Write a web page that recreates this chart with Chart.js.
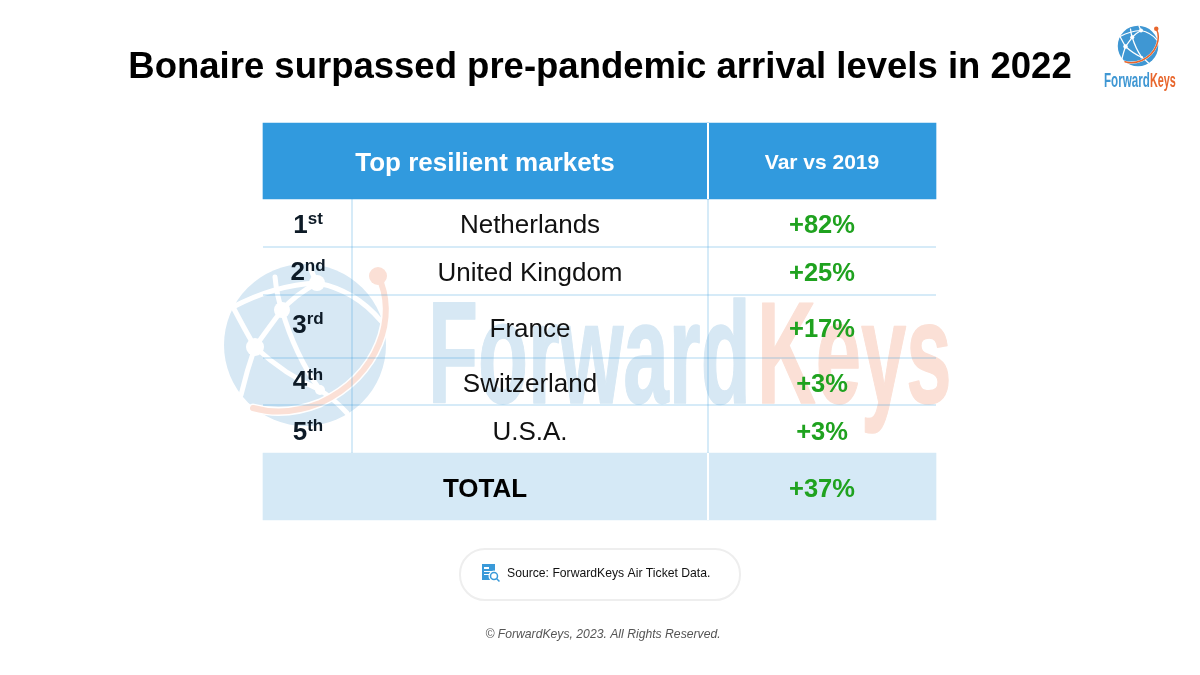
<!DOCTYPE html>
<html>
<head>
<meta charset="utf-8">
<title>Bonaire arrivals</title>
<script src="https://cdn.jsdelivr.net/npm/chart.js@4/dist/chart.umd.min.js"></script>
<style>
html, body { margin: 0; padding: 0; background: #fff; }
canvas { display: block; }
</style>
</head>
<body>
<canvas id="chart" width="1200" height="675"></canvas>
<script>
var titleText = "Bonaire surpassed pre-pandemic arrival levels in 2022";
var headerLeft = "Top resilient markets";
var headerRight = "Var vs 2019";
var rankDigits = ["1", "2", "3", "4", "5"];
var rankSuffixes = ["st", "nd", "rd", "th", "th"];
var markets = ["Netherlands", "United Kingdom", "France", "Switzerland", "U.S.A."];
var varVs2019 = [82, 25, 17, 3, 3];
var totalLabel = "TOTAL";
var totalVar = 37;
var sourceText = "Source: ForwardKeys Air Ticket Data.";
var copyrightText = "\u00a9 ForwardKeys, 2023. All Rights Reserved.";

// table layout, the scales below run in the page's own units
var colEdges = [263, 352, 708, 936];
var rowEdges = [123, 199, 247, 295, 358, 405, 453, 520];
var rowTextY = [226, 274, 330, 385, 433];
var rankTextY = [226, 273, 326, 382, 433];

var BLUE = "#319ade";
var PALE = "#d5e9f6";
var RULE = "rgba(49,154,222,0.2)";
var GREEN = "#1fa21f";
var FONT = '"Liberation Sans", Arial, sans-serif';

function pct(v) {
    return "+" + v + "%";
}

function cellBar(label, x0, x1, y0, y1, color) {
    return {
        type: "bar",
        label: label,
        data: [{ x: (x0 + x1) / 2, y: [y0, y1] }],
        barThickness: x1 - x0,
        grouped: false,
        backgroundColor: color,
        borderWidth: 0,
        order: 2
    };
}

function ruleLine(label, pts, color) {
    return {
        type: "line",
        label: label,
        data: pts,
        borderColor: color,
        borderWidth: 2,
        pointRadius: 0,
        borderCapStyle: "butt",
        order: 1
    };
}

var datasets = [
    cellBar("header left", colEdges[0], colEdges[2], rowEdges[0], rowEdges[1], BLUE),
    cellBar("header right", colEdges[2], colEdges[3], rowEdges[0], rowEdges[1], BLUE),
    cellBar("total left", colEdges[0], colEdges[2], rowEdges[6], rowEdges[7], PALE),
    cellBar("total right", colEdges[2], colEdges[3], rowEdges[6], rowEdges[7], PALE)
];
for (var r = 2; r <= 5; r++) {
    datasets.push(ruleLine("row " + r, [{ x: colEdges[0], y: rowEdges[r] }, { x: colEdges[3], y: rowEdges[r] }], RULE));
}
datasets.push(ruleLine("rank col", [{ x: colEdges[1], y: rowEdges[1] }, { x: colEdges[1], y: rowEdges[6] }], RULE));
datasets.push(ruleLine("value col", [{ x: colEdges[2], y: rowEdges[1] }, { x: colEdges[2], y: rowEdges[6] }], RULE));
datasets.push(ruleLine("head split", [{ x: colEdges[2], y: rowEdges[0] }, { x: colEdges[2], y: rowEdges[1] }], "#ffffff"));
datasets.push(ruleLine("total split", [{ x: colEdges[2], y: rowEdges[6] }, { x: colEdges[2], y: rowEdges[7] }], "#ffffff"));

function putText(ctx, str, x, y, font, color, align) {
    ctx.font = font;
    ctx.fillStyle = color;
    ctx.textAlign = align || "center";
    ctx.textBaseline = "middle";
    ctx.fillText(str, x, y);
}

// squeezed text, the logo word is a condensed face
function narrowText(ctx, str, x, y, font, color, sx, weight) {
    ctx.save();
    ctx.translate(x, y);
    ctx.scale(sx, 1);
    ctx.font = font;
    ctx.fillStyle = color;
    ctx.textAlign = "left";
    ctx.textBaseline = "alphabetic";
    ctx.fillText(str, 0, 0);
    if (weight) {
        ctx.strokeStyle = color;
        ctx.lineWidth = weight;
        ctx.lineJoin = "round";
        ctx.strokeText(str, 0, 0);
    }
    ctx.restore();
}

function drawGlobe(ctx, cx, cy, k, blue, orange) {
    ctx.save();
    ctx.translate(cx, cy);
    ctx.scale(k, k);
    ctx.fillStyle = blue;
    ctx.beginPath();
    ctx.arc(0, 0, 81, 0, Math.PI * 2);
    ctx.fill();

    ctx.strokeStyle = "#ffffff";
    ctx.lineWidth = 5;
    ctx.lineCap = "round";
    var links = [
        [-72, -38, -30, -60, 12, -62],
        [12, -62, 50, -55, 76, -24],
        [-50, 2, -38, -15, -23, -35],
        [-23, -35, -10, -50, 12, -62],
        [-23, -35, -28, -48, -30, -68],
        [-50, 2, -60, -15, -72, -38],
        [-50, 2, -58, 25, -64, 50],
        [-50, 2, -20, 30, 15, 45],
        [-23, -35, -10, 10, 15, 45],
        [15, 45, 30, 55, 42, 68],
        [12, -62, 8, -70, 4, -80]
    ];
    links.forEach(function (l) {
        ctx.beginPath();
        ctx.moveTo(l[0], l[1]);
        ctx.quadraticCurveTo(l[2], l[3], l[4], l[5]);
        ctx.stroke();
    });
    ctx.fillStyle = "#ffffff";
    [[-50, 2, 9], [-23, -35, 8], [12, -62, 8], [15, 45, 5]].forEach(function (n) {
        ctx.beginPath();
        ctx.arc(n[0], n[1], n[2], 0, Math.PI * 2);
        ctx.fill();
    });

    function arcPath() {
        ctx.beginPath();
        ctx.moveTo(73, -69);
        ctx.bezierCurveTo(93, -30, 75, 30, 15, 58);
        ctx.quadraticCurveTo(-20, 72, -52, 63);
    }
    ctx.strokeStyle = "#ffffff";
    ctx.lineWidth = 9;
    arcPath();
    ctx.stroke();
    ctx.strokeStyle = orange;
    ctx.lineWidth = 6;
    arcPath();
    ctx.stroke();
    ctx.fillStyle = orange;
    ctx.beginPath();
    ctx.arc(73, -69, 9, 0, Math.PI * 2);
    ctx.fill();
    ctx.restore();
}

function drawSourceIcon(ctx, x, y) {
    ctx.fillStyle = "#3a9ad9";
    ctx.fillRect(x, y, 13, 16);
    ctx.fillStyle = "#ffffff";
    ctx.fillRect(x + 2, y + 3, 5, 2);
    ctx.fillRect(x + 2, y + 7, 9, 1);
    ctx.fillRect(x + 2, y + 10, 5, 1);
    ctx.beginPath();
    ctx.arc(x + 12, y + 12, 5.5, 0, Math.PI * 2);
    ctx.fill();
    ctx.strokeStyle = "#3a9ad9";
    ctx.lineWidth = 1.5;
    ctx.beginPath();
    ctx.arc(x + 12, y + 12, 3.5, 0, Math.PI * 2);
    ctx.stroke();
    ctx.beginPath();
    ctx.moveTo(x + 14.5, y + 14.5);
    ctx.lineTo(x + 17.5, y + 17.5);
    ctx.stroke();
}

var backdropPlugin = {
    id: "backdrop",
    beforeDatasetsDraw: function (chart) {
        var ctx = chart.ctx;
        var sx = chart.scales.x, sy = chart.scales.y;
        ctx.save();
        drawGlobe(ctx, sx.getPixelForValue(305), sy.getPixelForValue(345), 1, "#d7e8f4", "#fbe0d6");
        narrowText(ctx, "Forward", sx.getPixelForValue(428), sy.getPixelForValue(403), "bold 144px " + FONT, "#d7e8f4", 0.568, 1.5);
        narrowText(ctx, "Keys", sx.getPixelForValue(757), sy.getPixelForValue(403), "bold 144px " + FONT, "#fbe0d6", 0.565, 1.5);
        ctx.restore();
    }
};

var tablePlugin = {
    id: "tableText",
    afterDatasetsDraw: function (chart) {
        var ctx = chart.ctx;
        var sx = chart.scales.x, sy = chart.scales.y;
        var X = function (v) { return sx.getPixelForValue(v); };
        var Y = function (v) { return sy.getPixelForValue(v); };
        ctx.save();

        putText(ctx, titleText, X(600), Y(68), "bold 36.5px " + FONT, "#000000");
        putText(ctx, headerLeft, X(485), Y(164), "bold 26px " + FONT, "#ffffff");
        putText(ctx, headerRight, X(822), Y(163), "bold 21px " + FONT, "#ffffff");

        markets.forEach(function (name, i) {
            ctx.font = "bold 26px " + FONT;
            var dw = ctx.measureText(rankDigits[i]).width;
            ctx.font = "bold 17px " + FONT;
            var sw = ctx.measureText(rankSuffixes[i]).width;
            var left = X(308) - (dw + sw) / 2;
            putText(ctx, rankDigits[i], left, Y(rankTextY[i]), "bold 26px " + FONT, "#0d1a26", "left");
            putText(ctx, rankSuffixes[i], left + dw, Y(rankTextY[i] - 7), "bold 17px " + FONT, "#0d1a26", "left");
            putText(ctx, name, X(530), Y(rowTextY[i]), "26px " + FONT, "#111111");
            putText(ctx, pct(varVs2019[i]), X(822), Y(rowTextY[i]), "bold 25.5px " + FONT, GREEN);
        });

        putText(ctx, totalLabel, X(485), Y(490), "bold 26px " + FONT, "#000000");
        putText(ctx, pct(totalVar), X(822), Y(490), "bold 25.5px " + FONT, GREEN);

        // source pill
        ctx.strokeStyle = "#eeeeee";
        ctx.lineWidth = 2;
        ctx.beginPath();
        ctx.roundRect(X(460), Y(549), X(740) - X(460), Y(600) - Y(549), 25);
        ctx.stroke();
        drawSourceIcon(ctx, X(482), Y(564));
        putText(ctx, sourceText, X(507), Y(574), "12.2px " + FONT, "#111111", "left");
        putText(ctx, copyrightText, X(603), Y(635), "italic 12.2px " + FONT, "#555555");

        // corner logo
        drawGlobe(ctx, X(1138), Y(46), 0.25, "#3f97d3", "#e8662c");
        narrowText(ctx, "Forward", X(1104), Y(87), "bold 20px " + FONT, "#3f97d3", 0.58);
        narrowText(ctx, "Keys", X(1150), Y(87), "bold 20px " + FONT, "#e8662c", 0.54);
        ctx.restore();
    }
};

new Chart(document.getElementById("chart"), {
    type: "bar",
    data: { datasets: datasets },
    plugins: [backdropPlugin, tablePlugin],
    options: {
        responsive: false,
        animation: false,
        events: [],
        layout: { padding: 0 },
        plugins: { legend: { display: false }, tooltip: { enabled: false }, title: { display: false } },
        scales: {
            x: { type: "linear", min: 0, max: 1200, offset: false, display: false },
            y: { type: "linear", min: 0, max: 675, reverse: true, display: false }
        }
    }
});
</script>
</body>
</html>
